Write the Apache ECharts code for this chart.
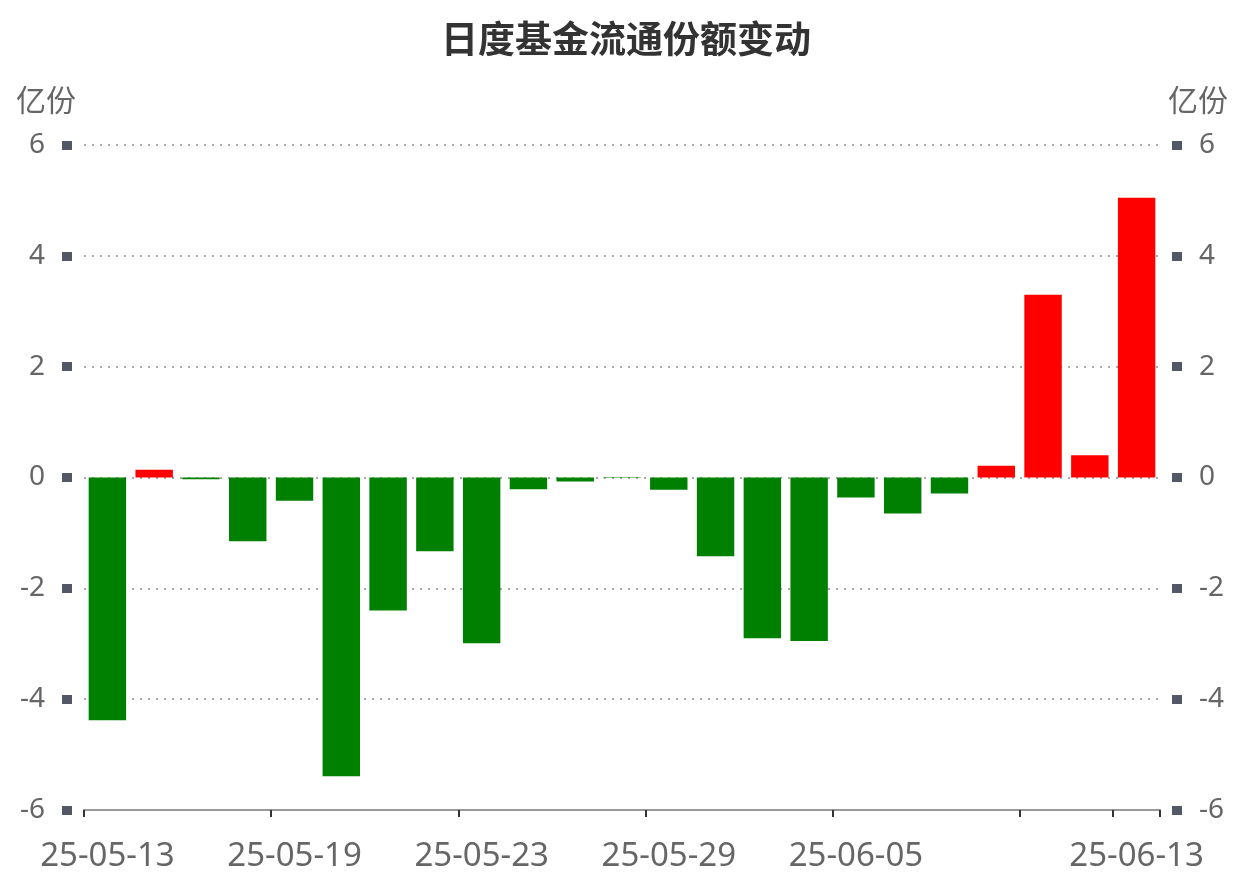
<!DOCTYPE html>
<html><head><meta charset="utf-8">
<script src="https://cdn.jsdelivr.net/npm/echarts@6/dist/echarts.min.js"></script>
<style>html,body{margin:0;padding:0;background:#fff}#c{width:1260px;height:885px}</style>
</head><body><div id="c"></div>
<script>
const categories = ['25-05-13','25-05-14','25-05-15','25-05-16','25-05-19','25-05-20','25-05-21','25-05-22','25-05-23','25-05-26','25-05-27','25-05-28','25-05-29','25-05-30','25-06-03','25-06-04','25-06-05','25-06-06','25-06-09','25-06-10','25-06-11','25-06-12','25-06-13'];
const values = [-4.38, 0.14, -0.03, -1.15, -0.42, -5.39, -2.40, -1.33, -2.99, -0.21, -0.07, -0.01, -0.22, -1.42, -2.90, -2.95, -0.36, -0.65, -0.29, 0.21, 3.30, 0.40, 5.05];
const titleText = '日度基金流通份额变动';
const unitName = '亿份';

const chart = echarts.init(document.getElementById('c'));
const cjkFont = '"Noto Sans CJK SC",sans-serif';
const numFont = '"Noto Sans","Noto Sans CJK SC",sans-serif';
function yAx(pos){
  return {
    type:'value', position:pos, min:-6, max:6, interval:2, offset:12,
    name:unitName, nameGap:30,
    nameTextStyle:{color:'#666', fontSize:30, fontFamily:cjkFont, align: pos==='left'?'right':'left',
      padding: pos==='left'?[0,-4,0,0]:[0,0,0,-4]},
    axisLine:{show:false},
    axisTick:{show:true, length:10, lineStyle:{width:9, color:'#525866'}},
    axisLabel:{color:'#666', fontSize:28, margin:27, fontFamily:numFont},
    splitLine:{show: pos==='left', lineStyle:{type:[2,6], color:'#aaa', width:2}}
  };
}
chart.setOption({
  backgroundColor:'#fff',
  title:{text:titleText, left:436, top:15, textStyle:{fontSize:37, fontWeight:'bold', color:'#333', fontFamily:cjkFont}},
  grid:{left:84, right:100, top:145, bottom:75, containLabel:false},
  xAxis:{
    type:'category', data:categories,
    axisLine:{show:true, onZero:false, lineStyle:{color:'#999', width:2}},
    axisTick:{show:true, length:7, lineStyle:{color:'#333', width:2}, interval:(i)=> i%4===0 || i===categories.length-1},
    axisLabel:{show:true, color:'#666', fontSize:33, margin:30, fontFamily:numFont,
      interval:(i)=> (i%4===0 && i!==20) || i===categories.length-1}
  },
  yAxis:[yAx('left'), yAx('right')],
  series:[{
    type:'bar', data:values.map(v=>({value:v, itemStyle:{color: v>=0?'#ff0000':'#008000'}})),
    barCategoryGap:'20%'
  }]
});
</script></body></html>
